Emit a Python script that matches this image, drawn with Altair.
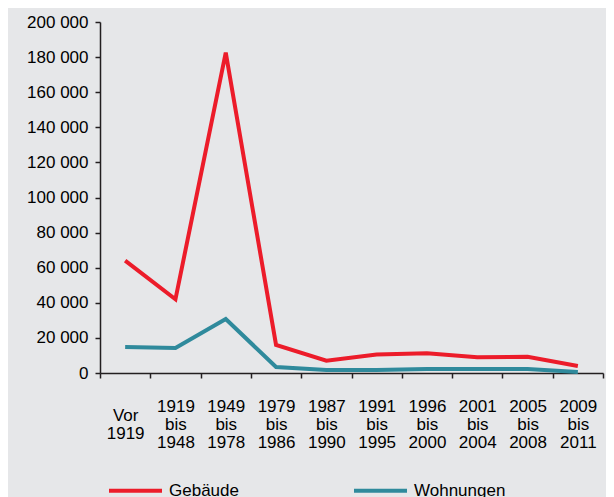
import altair as alt
import pandas as pd

periods = ["Vor 1919", "1919 bis 1948", "1949 bis 1978", "1979 bis 1986", "1987 bis 1990",
           "1991 bis 1995", "1996 bis 2000", "2001 bis 2004", "2005 bis 2008", "2009 bis 2011"]
gebaeude = [64000, 42000, 182500, 16000, 7000, 10500, 11300, 9000, 9200, 4000]
wohnungen = [14800, 14300, 30800, 3400, 1700, 1700, 2300, 2300, 2300, 600]
series = ["Gebäude", "Wohnungen"]
colors = ["#ec1c2a", "#2f8a9c"]

rows = []
for p, g, w in zip(periods, gebaeude, wohnungen):
    rows.append({"Periode": p, "Serie": series[0], "Wert": g})
    rows.append({"Periode": p, "Serie": series[1], "Wert": w})
df = pd.DataFrame(rows)

FONT = "Liberation Sans"

chart = alt.Chart(df).mark_line(strokeWidth=4).encode(
    x=alt.X("Periode:N", sort=periods, title=None,
            scale=alt.Scale(paddingInner=0, paddingOuter=0),
            axis=alt.Axis(labelAngle=0, labelExpr="split(datum.label, ' ')",
                          labelBaseline="middle",
                          labelPadding={"condition": {"test": "datum.label == 'Vor 1919'", "value": 37},
                                        "value": 28},
                          labelLineHeight=18,
                          tickBand="extent", tickSize=5, labelFontSize=17,
                          domainColor="#231f20", tickColor="#231f20", labelColor="#000000",
                          domainWidth=1.5, tickWidth=1.5)),
    y=alt.Y("Wert:Q", title=None,
            scale=alt.Scale(domain=[0, 200000]),
            axis=alt.Axis(values=list(range(0, 200001, 20000)),
                          labelExpr="replace(format(datum.value, ','), ',', ' ')",
                          grid=False, tickSize=5, labelPadding=7, labelFontSize=17,
                          domainColor="#231f20", tickColor="#231f20", labelColor="#000000",
                          domainWidth=1.5, tickWidth=1.5)),
    color=alt.Color("Serie:N", sort=series,
                    scale=alt.Scale(domain=series, range=colors),
                    legend=alt.Legend(title=None, orient="none", legendX=7, legendY=440,
                                      direction="horizontal", columns=2, columnPadding=107,
                                      symbolType="stroke", symbolSize=2809, symbolStrokeWidth=4,
                                      labelFontSize=17, labelColor="#000000", labelOffset=5)),
).properties(
    width=503, height=351,
    background="#e6e7e9",
    padding={"left": 92, "top": 14, "right": 3, "bottom": 124},
    autosize=alt.AutoSizeParams(type="none"),
).configure(font=FONT).configure_view(stroke=None)

chart.save("out.html", embed_options={"renderer": "svg", "actions": False})
